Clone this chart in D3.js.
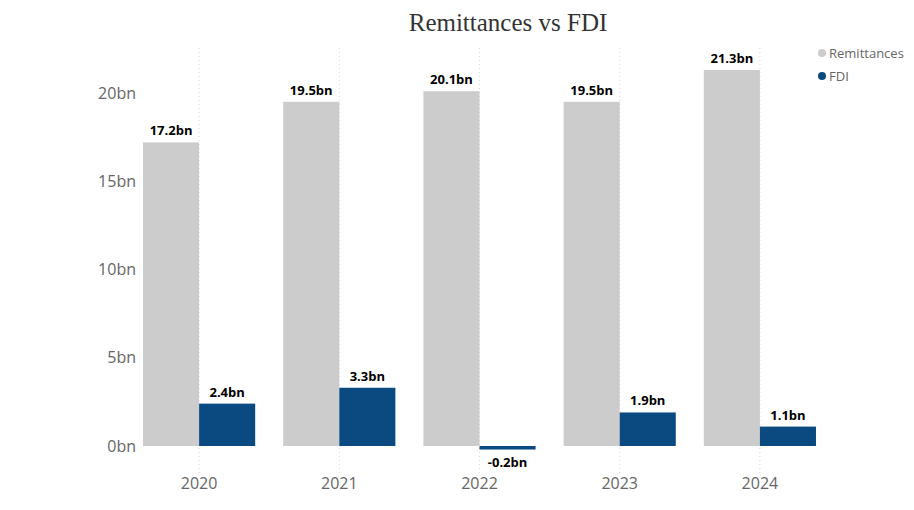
<!DOCTYPE html>
<html>
<head>
<meta charset="utf-8">
<script src="https://cdn.jsdelivr.net/npm/d3@7"></script>
<style>
  body { margin: 0; background: #fff; }
  svg text { font-family: "Open Sans", "Noto Sans", sans-serif; }
</style>
</head>
<body>
<div id="chart"></div>
<script>
// data
var years = ["2020", "2021", "2022", "2023", "2024"];
var seriesNames = ["Remittances", "FDI"];
var remittances = [17.2, 19.5, 20.1, 19.5, 21.3];
var fdi = [2.4, 3.3, -0.2, 1.9, 1.1];
var yTicks = [0, 5, 10, 15, 20];

var colors = { Remittances: "#cccccc", FDI: "#0b4a80" };
var width = 914, height = 510;

var svg = d3.select("#chart").append("svg")
    .attr("width", width)
    .attr("height", height);

//Title
svg.append("text")
    .attr("x", 508)
    .attr("y", 31)
    .attr("text-anchor", "middle")
    .style("font-family", "'Liberation Serif', serif")
    .style("font-size", "25px")
    .attr("fill", "#333")
    .text("Remittances vs FDI");

var x = d3.scaleBand()
    .domain(years)
    .range([129, 830]);

var inner = d3.scaleBand()
    .domain(seriesNames)
    .range([0, x.bandwidth()])
    .paddingOuter(0.25);

var y = d3.scaleLinear()
    .domain([0, 20])
    .range([446, 93]);

//Dotted vertical gridlines at each category centre
svg.append("g").selectAll("line")
    .data(years)
    .enter()
    .append("line")
    .attr("x1", function (d) { return x(d) + x.bandwidth() / 2; })
    .attr("x2", function (d) { return x(d) + x.bandwidth() / 2; })
    .attr("y1", 48)
    .attr("y2", 474)
    .attr("stroke", "#d6d6d6")
    .attr("stroke-width", 1)
    .attr("stroke-dasharray", "1,3");

//Y axis labels
var axisY = svg.append("g")
    .attr("transform", "translate(136,0)")
    .call(d3.axisLeft(y).tickValues(yTicks).tickSize(0).tickPadding(0)
        .tickFormat(function (d) { return d + "bn"; }));
axisY.select(".domain").remove();
axisY.selectAll("text")
    .style("font-size", "16px")
    .style("font-family", "'Open Sans', sans-serif")
    .attr("fill", "#666");

//X axis labels
var axisX = svg.append("g")
    .attr("transform", "translate(0,478)")
    .call(d3.axisBottom(x).tickSize(0).tickPadding(0));
axisX.select(".domain").remove();
axisX.selectAll("text")
    .style("font-size", "16px")
    .style("font-family", "'Open Sans', sans-serif")
    .attr("fill", "#666");

var series = [
    { name: "Remittances", values: remittances },
    { name: "FDI", values: fdi }
];

series.forEach(function (s) {
    var g = svg.append("g");
    g.selectAll("rect")
        .data(s.values)
        .enter()
        .append("rect")
        .attr("x", function (d, i) { return x(years[i]) + inner(s.name); })
        .attr("width", inner.bandwidth())
        .attr("y", function (d) { return y(Math.max(0, d)); })
        .attr("height", function (d) { return Math.max(3, Math.abs(y(d) - y(0))); })
        .attr("fill", colors[s.name]);

    g.selectAll("text")
        .data(s.values)
        .enter()
        .append("text")
        .attr("x", function (d, i) { return x(years[i]) + inner(s.name) + inner.bandwidth() / 2; })
        .attr("y", function (d) { return d < 0 ? y(0) + 21 : y(d) - 7; })
        .attr("text-anchor", "middle")
        .style("font-size", "13px")
        .style("font-weight", "bold")
        .attr("fill", "#000")
        .text(function (d) { return d.toFixed(1) + "bn"; });
});

//Legend
var legend = svg.append("g").attr("transform", "translate(822,53)");
seriesNames.forEach(function (name, i) {
    legend.append("circle")
        .attr("cx", 0)
        .attr("cy", i * 23)
        .attr("r", 4)
        .attr("fill", colors[name]);
    legend.append("text")
        .attr("x", 7)
        .attr("y", i * 23 + 5)
        .style("font-size", "13px")
        .attr("fill", "#666")
        .text(name);
});
</script>
</body>
</html>
